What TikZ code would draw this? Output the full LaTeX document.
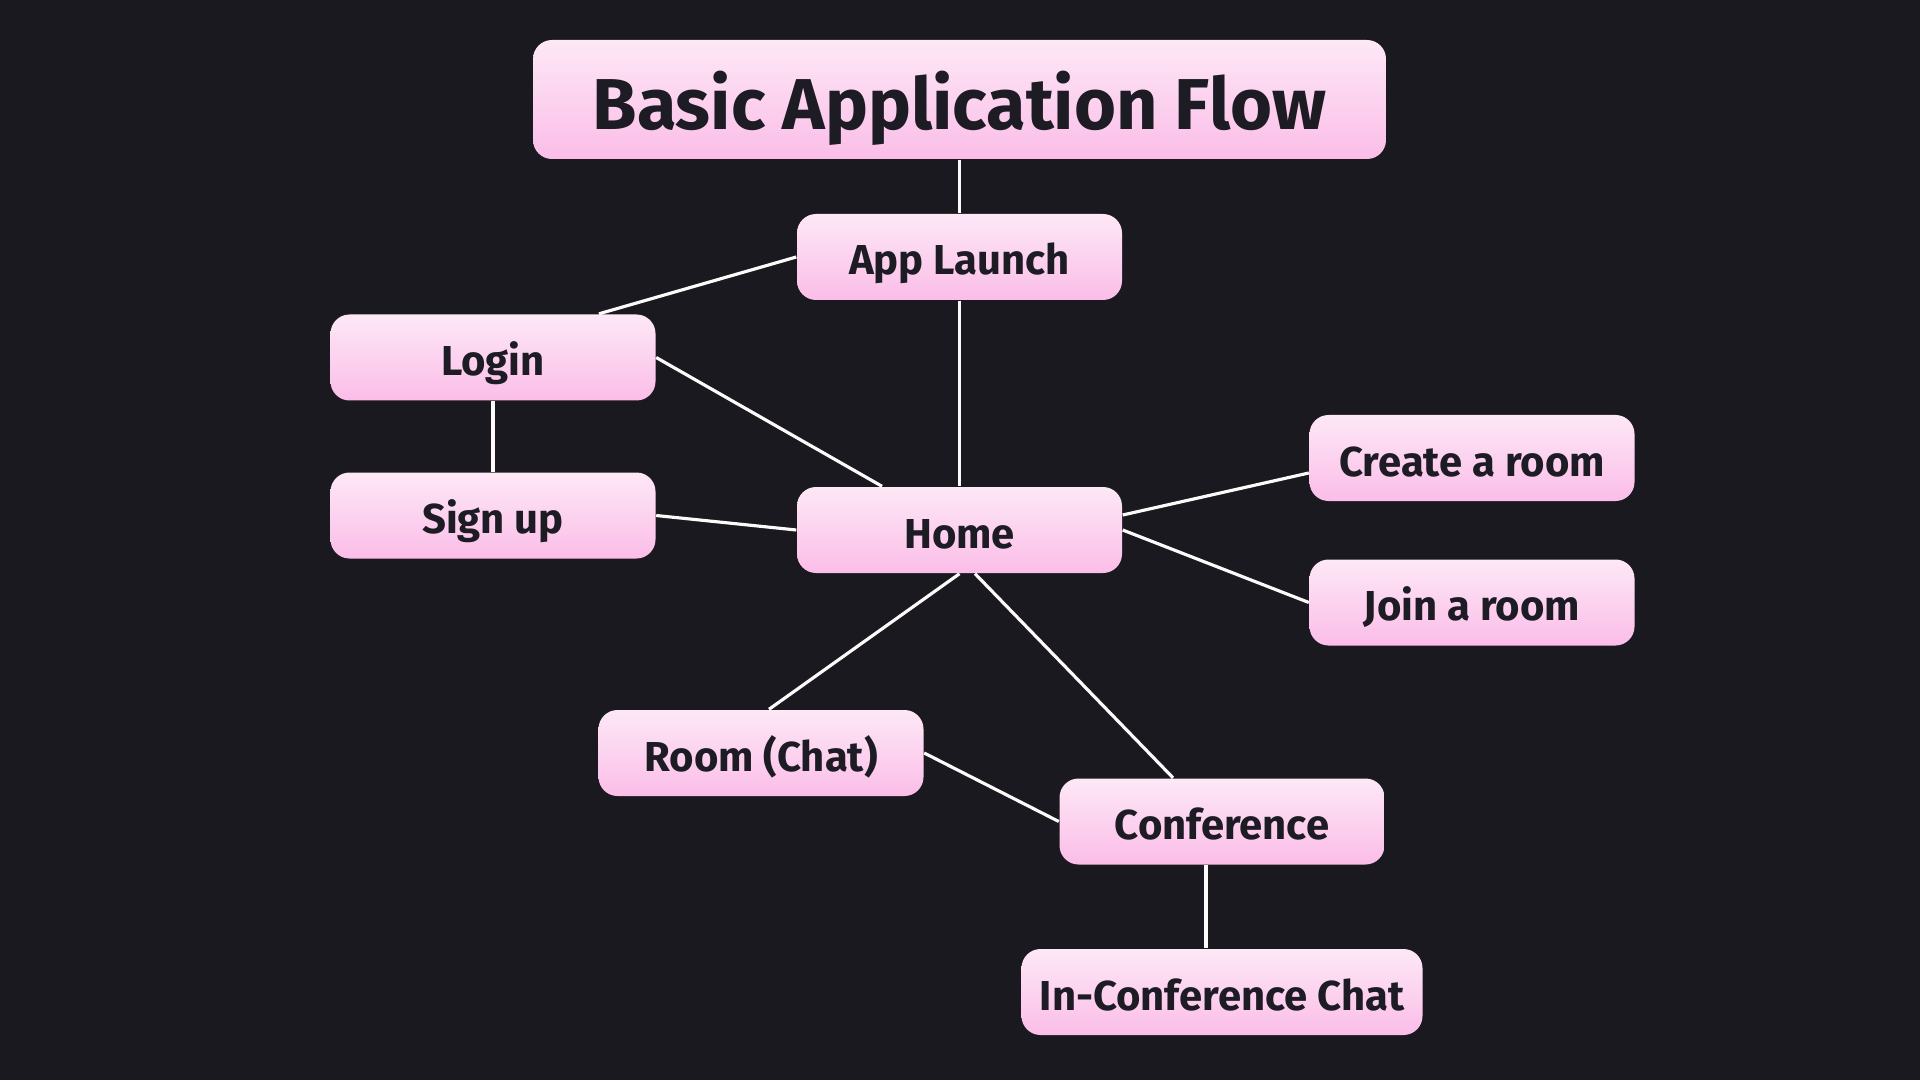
\documentclass[tikz,border=0pt]{standalone}
\usepackage{fontspec}
\setmainfont{Fira Sans}
\usetikzlibrary{calc}
\definecolor{bg}{HTML}{1A1920}
\definecolor{ntop}{HTML}{FDE8F6}
\definecolor{nbot}{HTML}{FBBDE8}
\definecolor{ntext}{HTML}{1D1B24}
\tikzset{
  box/.style={rectangle, rounded corners=0.19cm, top color=ntop, bottom color=nbot,
    draw=none, minimum width=3.25cm, minimum height=0.86cm, inner sep=0pt,
    text height=0.36cm, text depth=0cm,
    text=ntext, font=\fontsize{11.9pt}{14pt}\selectfont\bfseries},
  titlebox/.style={box, minimum width=8.53cm, minimum height=1.19cm,
    text height=0.6cm, text depth=0cm,
    font=\fontsize{20.5pt}{24pt}\selectfont\bfseries},
  link/.style={draw=white!92!pink, line width=0.9pt}
}
\begin{document}
\begin{tikzpicture}
\fill[bg] (0,0) rectangle (19.2,-10.8);
\useasboundingbox (0,0) rectangle (19.2,-10.8);
\node[titlebox] (title) at (9.595,-0.995) {Basic Application Flow};
\node[box] (app) at (9.595,-2.57) {App Launch};
\node[box] (login) at (4.93,-3.575) {Login};
\node[box] (signup) at (4.93,-5.155) {Sign up};
\node[box] (home) at (9.595,-5.30) {Home};
\node[box] (create) at (14.72,-4.58) {Create a room};
\node[box] (join) at (14.72,-6.025) {Join a room};
\node[box] (room) at (7.61,-7.53) {Room (Chat)};
\node[box] (conf) at (12.22,-8.215) {Conference};
\node[box, minimum width=4.01cm] (chat) at (12.22,-9.92) {In-Conference Chat};
\draw[link] (title.south) -- (app.north);
\draw[link] (app.west) -- ([xshift=1.06cm]login.north);
\draw[link] (login.east) -- ([xshift=-0.775cm]home.north);
\draw[link] (login.south) -- (signup.north);
\draw[link] (signup.east) -- (home.west);
\draw[link] (app.south) -- (home.north);
\draw[link] ([yshift=0.15cm]home.east) -- ([yshift=-0.15cm]create.west);
\draw[link] (home.east) -- (join.west);
\draw[link] (home.south) -- ([xshift=0.08cm]room.north);
\draw[link] ([xshift=0.155cm]home.south) -- ([xshift=-0.49cm]conf.north);
\draw[link] (room.east) -- (conf.west);
\draw[link] ([xshift=-0.16cm]conf.south) -- ([xshift=-0.16cm]chat.north);
\end{tikzpicture}
\end{document}
